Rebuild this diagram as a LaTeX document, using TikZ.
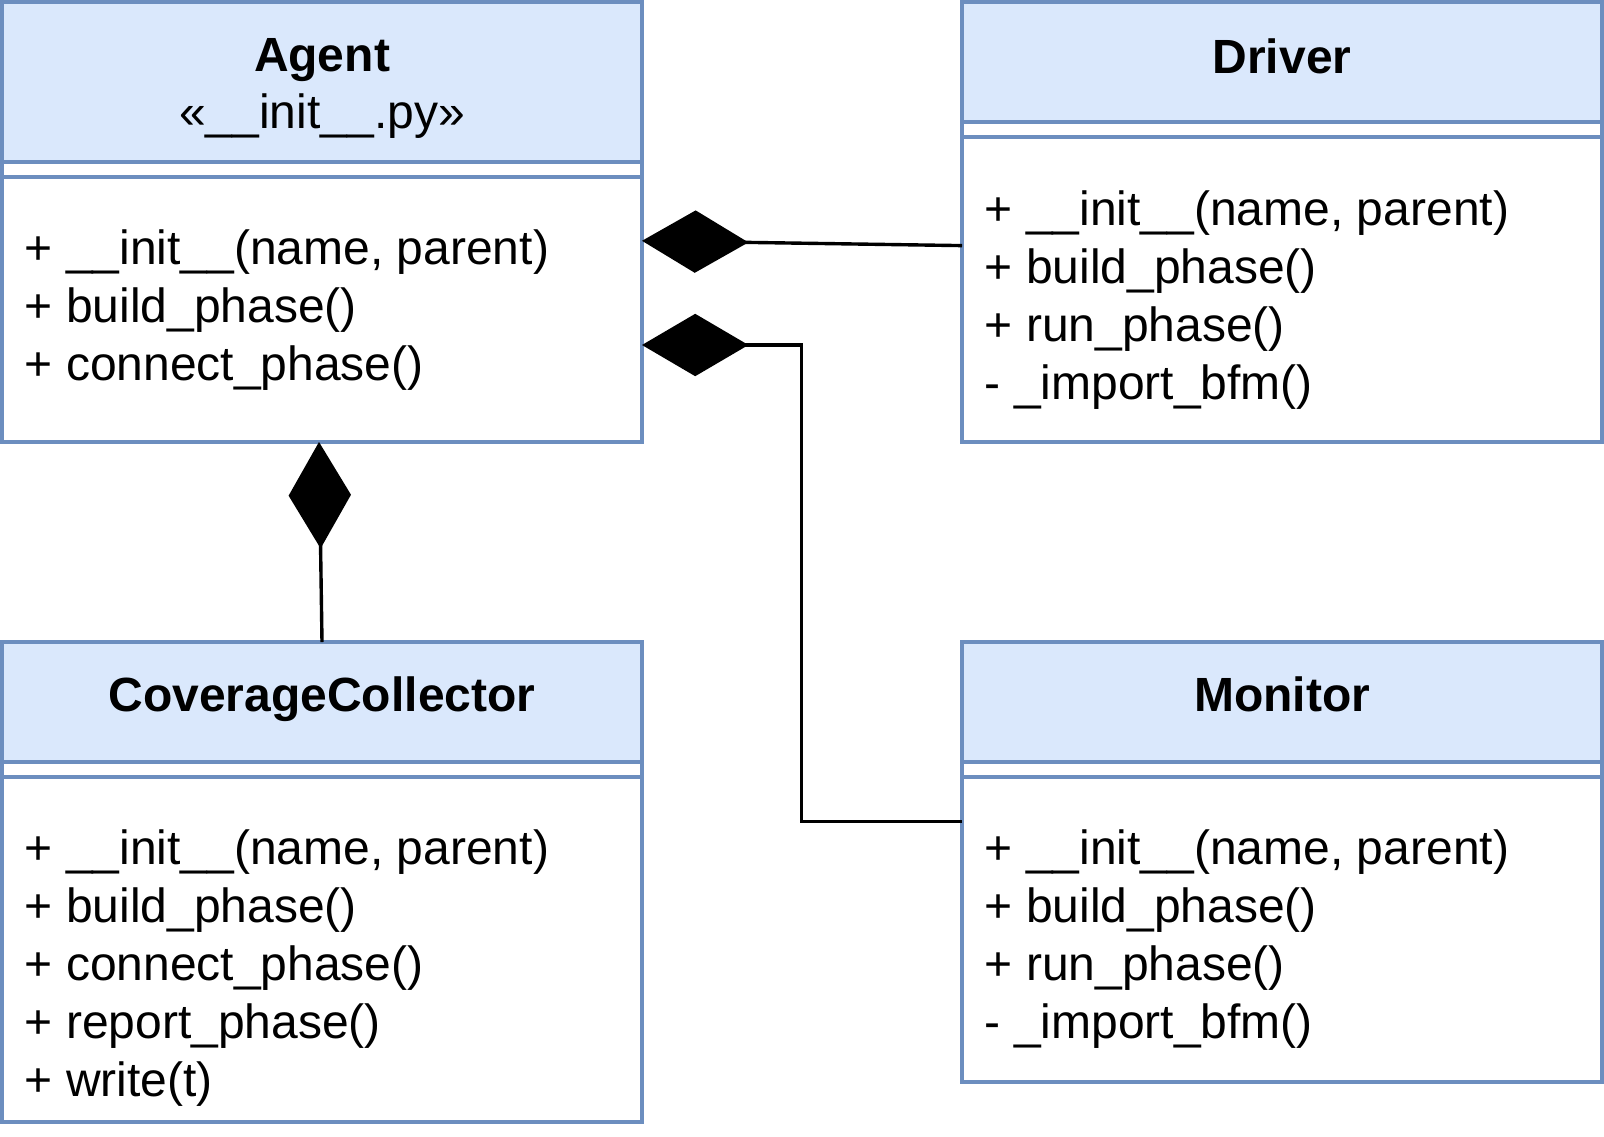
\documentclass[tikz,border=0pt]{standalone}
\usepackage{fontspec}
\setmainfont{Liberation Sans}
\usetikzlibrary{arrows.meta}

\definecolor{headfill}{HTML}{DAE8FC}
\definecolor{boxline}{HTML}{6C8EBF}

\newcommand{\umlsize}{\fontsize{12pt}{14.5pt}\selectfont}

\tikzset{
  classbox/.style={draw=boxline, fill=white, line width=1pt, minimum width=160pt, inner sep=0pt, outer sep=0pt, anchor=north west},
  classhead/.style={classbox, fill=headfill},
  sepline/.style={draw=boxline, line width=1pt},
  classname/.style={anchor=base, inner sep=0pt, font=\umlsize\bfseries},
  stereo/.style={anchor=base, inner sep=0pt, font=\umlsize},
  members/.style={anchor=base west, align=left, inner sep=0pt, font=\umlsize},
  compose/.style={line width=0.85pt, -{Diamond[length=26.6pt, width=15.6pt]}}
}

\begin{document}
\begin{tikzpicture}[x=1pt, y=-1pt]
  \useasboundingbox (0,0) rectangle (401,284);

  % Agent
  \node[classbox, minimum height=110pt] (agent) at (0.5,0.5) {};
  \node[classhead, minimum height=40pt] (agenthead) at (agent.north west) {};
  \draw[sepline] ([yshift=-3.8pt]agenthead.south west) -- ([yshift=-3.8pt]agenthead.south east);
  \node[classname] (agentname) at (80.5,17.9) {Agent};
  \node[stereo] (agentstereo) at (80.5,32.1) {«\_\_init\_\_.py»};
  % base of a multi-line node = its last line
  \node[members] (agentops) at (6,95) {+ \_\_init\_\_(name, parent)\\+ build\_phase()\\+ connect\_phase()};

  % Driver
  \node[classbox, minimum height=110pt] (driver) at (240.5,0.5) {};
  \node[classhead, minimum height=30pt] (driverhead) at (driver.north west) {};
  \draw[sepline] ([yshift=-3.8pt]driverhead.south west) -- ([yshift=-3.8pt]driverhead.south east);
  \node[classname] (drivername) at (320.5,18.3) {Driver};
  \node[members] (driverops) at (246,99.9) {+ \_\_init\_\_(name, parent)\\+ build\_phase()\\+ run\_phase()\\- \_import\_bfm()};

  % CoverageCollector
  \node[classbox, minimum height=120pt] (cov) at (0.5,160.5) {};
  \node[classhead, minimum height=30pt] (covhead) at (cov.north west) {};
  \draw[sepline] ([yshift=-3.8pt]covhead.south west) -- ([yshift=-3.8pt]covhead.south east);
  \node[classname] (covname) at (80.5,177.9) {CoverageCollector};
  \node[members] (covops) at (6,274.1) {+ \_\_init\_\_(name, parent)\\+ build\_phase()\\+ connect\_phase()\\+ report\_phase()\\+ write(t)};

  % Monitor
  \node[classbox, minimum height=110pt] (monitor) at (240.5,160.5) {};
  \node[classhead, minimum height=30pt] (monitorhead) at (monitor.north west) {};
  \draw[sepline] ([yshift=-3.8pt]monitorhead.south west) -- ([yshift=-3.8pt]monitorhead.south east);
  \node[classname] (monitorname) at (320.5,177.9) {Monitor};
  \node[members] (monitorops) at (246,259.6) {+ \_\_init\_\_(name, parent)\\+ build\_phase()\\+ run\_phase()\\- \_import\_bfm()};

  % compositions
  \draw[compose] ([yshift=-5.9pt]driver.west) -- ([yshift=-4.7pt]agent.east);
  \draw[compose] ([yshift=10.1pt]monitor.west) -- ++(-40.1,0) |- ([yshift=-30.75pt]agent.east);
  \draw[compose] (cov.north) -- ([xshift=-0.75pt]agent.south);
\end{tikzpicture}
\end{document}
